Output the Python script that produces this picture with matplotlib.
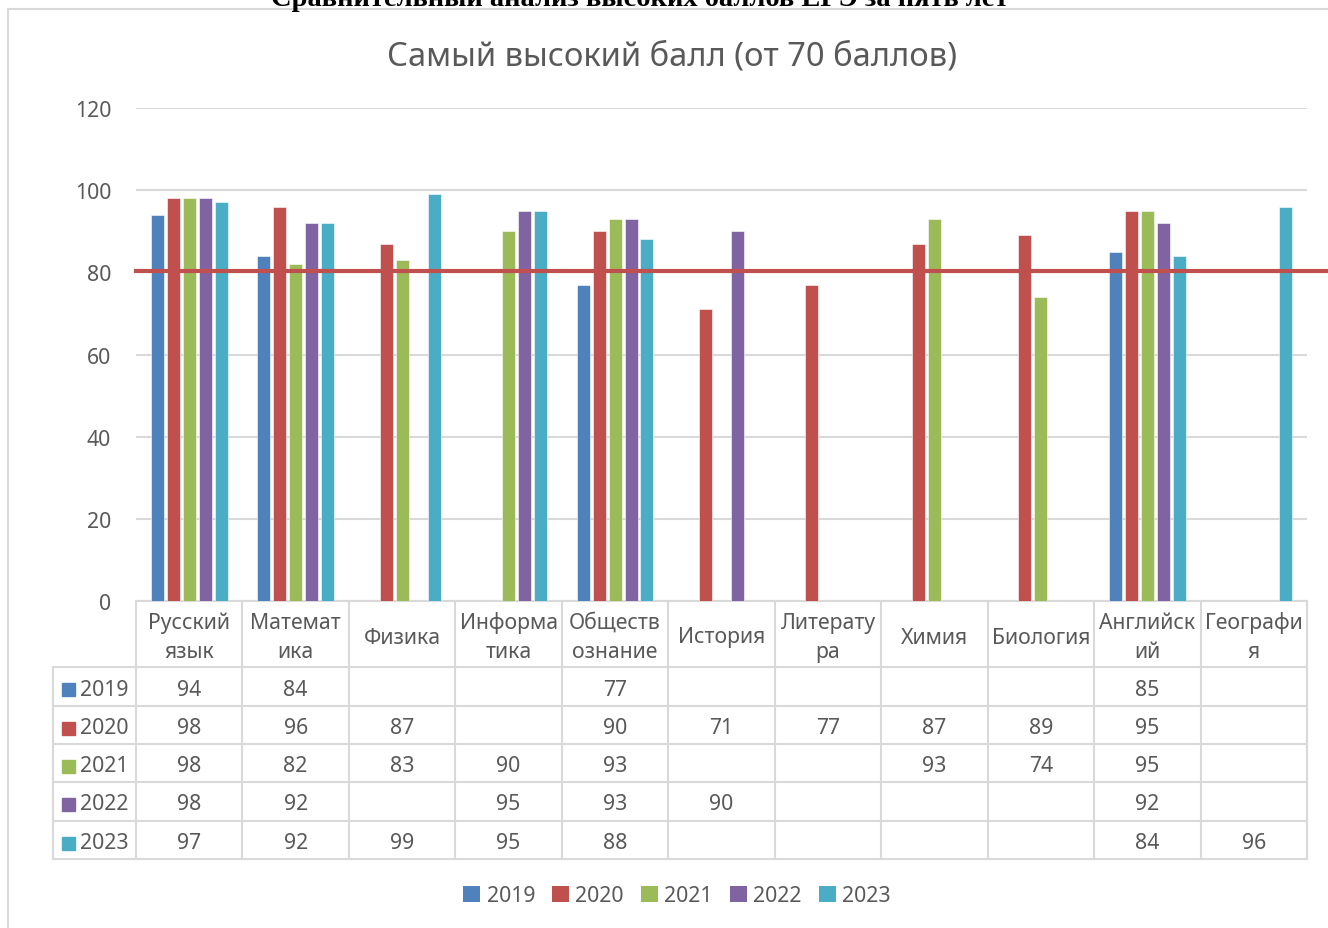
import numpy as np
import matplotlib.pyplot as plt
from matplotlib.patches import Patch, Rectangle
from matplotlib.lines import Line2D
from matplotlib.transforms import blended_transform_factory

plt.rcParams["font.family"] = ["Noto Sans", "DejaVu Sans"]

subjects = ["Русский\nязык", "Математ\nика", "Физика", "Информа\nтика", "Обществ\nознание",
            "История", "Литерату\nра", "Химия", "Биология", "Английск\nий", "Географи\nя"]
years = ["2019", "2020", "2021", "2022", "2023"]
nan = np.nan
v2019 = [94, 84, nan, nan, 77, nan, nan, nan, nan, 85, nan]
v2020 = [98, 96, 87, nan, 90, 71, 77, 87, 89, 95, nan]
v2021 = [98, 82, 83, 90, 93, nan, nan, 93, 74, 95, nan]
v2022 = [98, 92, nan, 95, 93, 90, nan, nan, nan, 92, nan]
v2023 = [97, 92, 99, 95, 88, nan, nan, nan, nan, 84, 96]
series = [v2019, v2020, v2021, v2022, v2023]
colors = ["#4F81BD", "#C0504D", "#9BBB59", "#8064A2", "#4BACC6"]
threshold = 80.3

W, H = 1328, 929
txt = "#595959"
grid = "#D9D9D9"
fs = 15.3

fig = plt.figure(figsize=(W / 100, H / 100), dpi=100)


def fy(py):
    return 1 - py / H


def fx(px):
    return px / W


# outer chart border (only top/left visible)
fig.add_artist(Line2D([fx(8), 1], [fy(10), fy(10)], color=grid, lw=1.5))
fig.add_artist(Line2D([fx(8), fx(8)], [fy(10), 0], color=grid, lw=1.5))

fig.text(fx(640), fy(6), "Сравнительный анализ высоких баллов ЕГЭ за пять лет",
         ha="center", va="baseline", fontsize=20.5, fontweight="bold",
         family=["Liberation Serif", "DejaVu Serif"], color="black")
fig.text(fx(672), fy(57), "Самый высокий балл (от 70 баллов)", ha="center", va="center",
         fontsize=23.5, color=txt)

ax = fig.add_axes([fx(136), fy(602), fx(1307) - fx(136), fy(109) - fy(602)])
n = len(subjects)
x = np.arange(n)
slot = 0.15
bw = 0.122
for i, (vals, c, yr) in enumerate(zip(series, colors, years)):
    ax.bar(x + (i - 2) * slot, vals, width=bw, color=c, edgecolor="#FFFFFF", linewidth=0.4, zorder=3)

ax.set_xlim(-0.5, n - 0.5)
ax.set_ylim(0, 120)
ax.set_yticks(range(0, 121, 20))
ax.tick_params(axis="y", length=0, pad=18, labelsize=fs, labelcolor=txt)
ax.set_xticks([])
ax.grid(axis="y", color=grid, lw=1.5, zorder=0)
for s in ax.spines.values():
    s.set_visible(False)

# red threshold line extending to right edge
tr_line = blended_transform_factory(fig.transFigure, ax.transData)
ax.add_line(Line2D([fx(136), 1], [threshold, threshold], transform=tr_line, color="#C0504D",
                   lw=3, clip_on=False, zorder=5))

# data table below the axes: x in data coords, y in figure fraction
tr = blended_transform_factory(ax.transData, fig.transFigure)
row_y = [602, 668, 707, 745, 783, 822, 860]
unit = 1171 / n
left_x = -0.5 - (136 - 53) / unit
lw_t = 1.5
ax.add_line(Line2D([-0.5, n - 0.5], [fy(602)] * 2, transform=tr, color=grid, lw=lw_t, clip_on=False))
for py in row_y[1:]:
    ax.add_line(Line2D([left_x, n - 0.5], [fy(py)] * 2, transform=tr, color=grid, lw=lw_t, clip_on=False))
for b in np.arange(-0.5, n, 1.0):
    ax.add_line(Line2D([b, b], [fy(602), fy(860)], transform=tr, color=grid, lw=lw_t, clip_on=False))
ax.add_line(Line2D([left_x, left_x], [fy(668), fy(860)], transform=tr, color=grid, lw=lw_t, clip_on=False))

for j, s in enumerate(subjects):
    ax.text(j, fy(638), s, transform=tr, ha="center", va="center", fontsize=fs,
            color=txt, linespacing=1.5, clip_on=False)

for i, (vals, c, yr) in enumerate(zip(series, colors, years)):
    cy = fy((row_y[i + 1] + row_y[i + 2]) / 2 + 2.5)
    ax.add_patch(Rectangle((left_x + 9 / unit, cy - 7 / H), 13 / unit, 13 / H, transform=tr,
                           color=c, clip_on=False))
    ax.text(left_x + 27 / unit, cy, yr, transform=tr, ha="left", va="center", fontsize=fs,
            color=txt, clip_on=False)
    for j, v in enumerate(vals):
        if not np.isnan(v):
            ax.text(j, cy, f"{int(v)}", transform=tr, ha="center", va="center", fontsize=fs,
                    color=txt, clip_on=False)

handles = [Patch(facecolor=c, edgecolor="none", label=y) for c, y in zip(colors, years)]
fig.legend(handles=handles, loc="center", bbox_to_anchor=(fx(677), fy(897)), ncol=5,
           frameon=False, fontsize=fs, labelcolor=txt, handlelength=0.8, handleheight=0.8,
           handletextpad=0.3, columnspacing=0.8)

fig.savefig("out.png", dpi=100)
